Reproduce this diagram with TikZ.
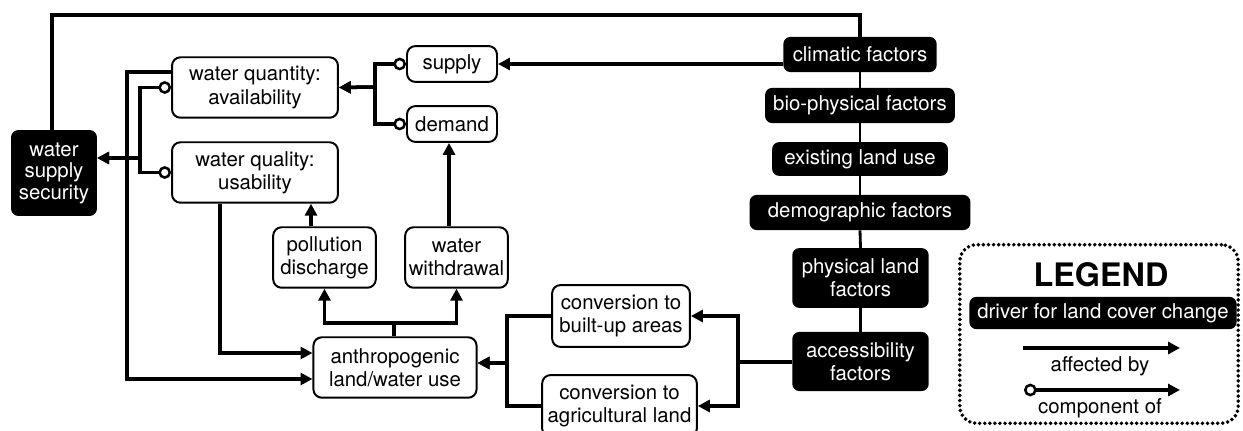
\documentclass[tikz,border=0pt]{standalone}
\usepackage{fontspec}
\setmainfont{TeX Gyre Heros}
\usetikzlibrary{arrows.meta}

\begin{document}
\begin{tikzpicture}[x=0.025cm,y=-0.025cm,
        font=\fontsize{14.5}{16.5}\selectfont,
        box/.style={draw,line width=1.4pt,rounded corners=6pt,align=center,inner sep=2pt},
        driver/.style={fill=black,text=white,rounded corners=5pt,align=center,inner sep=2pt},
        link/.style={line width=2pt},
        aff/.style={line width=2.5pt,-{Triangle[length=8.5pt,width=8.5pt]}},
        comp/.style={line width=2.5pt,{Circle[open,length=9pt,line width=1.8pt]}-{Triangle[length=8.5pt,width=8.5pt]}}]
        
        \useasboundingbox (0,0) rectangle (1243,431);
        \clip (0,0) rectangle (1243,431);
        
        % water side
        \node[driver,minimum width=61pt,minimum height=61pt,font=\fontsize{14.5}{15.3}\selectfont] (wss) at (54,173) {water\\supply\\security};
        \node[box,minimum width=118pt,minimum height=43pt] (wqa) at (255,87.5) {water quantity:\\availability};
        \node[box,minimum width=118pt,minimum height=43pt] (wql) at (255,172.5) {water quality:\\usability};
        \node[box,minimum width=64pt,minimum height=25.5pt] (supply) at (452,64) {supply};
        \node[box,minimum width=64pt,minimum height=25.5pt] (demand) at (452,124) {demand};
        \node[box,minimum width=73pt,minimum height=43pt] (pd) at (324.5,257.5) {pollution\\discharge};
        \node[box,minimum width=73pt,minimum height=43pt] (ww) at (456.5,257.5) {water\\withdrawal};
        \node[box,minimum width=116pt,minimum height=43pt] (alu) at (395,367.5) {anthropogenic\\land/water use};
        \node[box,minimum width=98pt,minimum height=44pt] (cbu) at (621,316) {conversion to\\built-up areas};
        \node[box,minimum width=110pt,minimum height=44pt] (cal) at (619.5,406) {conversion to\\agricultural land};
        
        % drivers
        \node[driver,minimum width=109pt,minimum height=25pt] (clim) at (860,54.5) {climatic factors};
        \node[driver,minimum width=135pt,minimum height=25pt] (bio) at (860,105.5) {bio-physical factors};
        \node[driver,minimum width=125pt,minimum height=24pt] (exist) at (860,159) {existing land use};
        \node[driver,minimum width=157pt,minimum height=25pt] (demo) at (860,212.5) {demographic factors};
        \node[driver,minimum width=97pt,minimum height=42.5pt] (phys) at (860.5,278) {physical land\\factors};
        \node[driver,minimum width=97pt,minimum height=42pt] (acc) at (860.5,361.5) {accessibility\\factors};
        
        % bends
        \coordinate (loop) at (52,15);
        \coordinate (jq) at (375,87);
        \coordinate (js) at (140,158);
        \coordinate (lx) at (127,72);
        \coordinate (lxe) at (127,379);
        \coordinate (ux) at (220,353);
        \coordinate (pdx) at (311,227);
        \coordinate (wwx) at (449,227);
        \coordinate (ja) at (394,323);
        \coordinate (jc) at (507,363);
        \coordinate (jd) at (738,362);
        
        \draw[link,line width=2.2pt] (clim.north) -- (clim.north |- loop) -- (loop) -- (loop |- wss.north);
        \draw[link] (clim.south) -- (bio.north);
        \draw[link] (bio.south) -- (exist.north);
        \draw[link] (exist.south) -- (demo.north);
        \draw[link] (demo.south) -- (phys.north);
        \draw[link] (phys.south) -- (acc.north);
        
        \draw[aff] (clim.west |- supply) -- (supply.east);
        \draw[comp] (supply.west) -| (jq) -- (wqa.east);
        \draw[comp] (demand.west) -| (jq) -- (wqa.east);
        \draw[comp] (wqa.west) -| (js) -- (wss.east |- js);
        \draw[comp] (wql.west) -| (js) -- (wss.east |- js);
        
        \draw[aff] (wqa.west |- lx) -- (lx) -- (lxe) -- (alu.west |- lxe);
        \draw[aff] (wql.south -| ux) -- (ux) -- (alu.west |- ux);
        \draw[aff] (pd.north -| pdx) -- (wql.south -| pdx);
        \draw[aff] (ww.north -| wwx) -- (demand.south -| wwx);
        
        \draw[line width=2.5pt] (alu.north -| ja) -- (ja);
        \draw[aff] (ja) -| (pd.south);
        \draw[aff] (ja) -| (ww.south);
        
        \draw[aff] (cbu.west) -| (jc) -- (alu.east |- jc);
        \draw[aff] (cal.west) -| (jc) -- (alu.east |- jc);
        
        \draw[line width=2.5pt] (acc.west |- jd) -- (jd);
        \draw[aff] (jd) |- (cbu.east);
        \draw[aff] (jd) |- (cal.east);
        
        % legend
        \node[draw,line width=2.8pt,dash pattern=on 0pt off 3.6pt,line cap=round,rounded corners=12pt,minimum width=198pt,minimum height=127pt] (legend) at (1099,334) {};
        \node[font=\fontsize{23}{25}\selectfont\bfseries] (title) at (1101,275) {LEGEND};
        \node[driver,minimum width=190pt,minimum height=23pt] (key) at (1103,313) {driver for land cover change};
        \coordinate (la) at (1023,348);
        \coordinate (lb) at (1180,348);
        \coordinate (lc) at (1024,390);
        \coordinate (ld) at (1180,390);
        \draw[aff] (la) -- (lb);
        \node (affby) at (1100,366) {affected by};
        \draw[comp] (lc) -- (ld);
        \node (compof) at (1100,408) {component of};
        
    \end{tikzpicture}
\end{document}
